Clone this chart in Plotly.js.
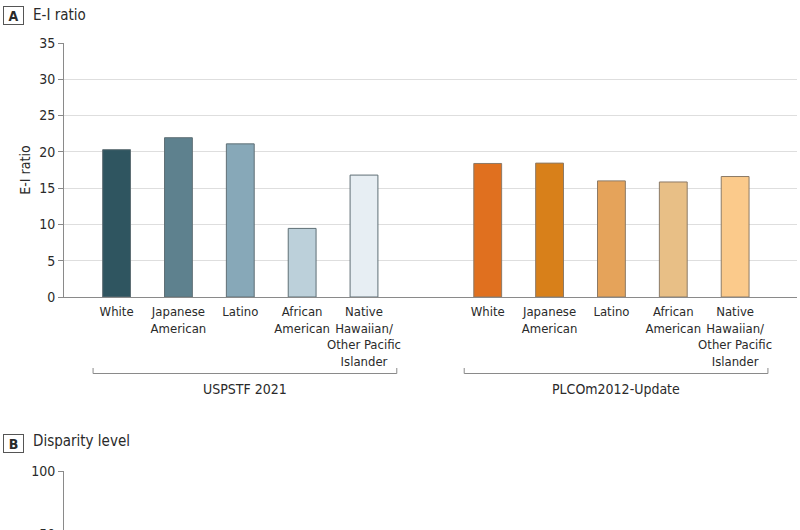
<!DOCTYPE html>
<html>
<head>
<meta charset="utf-8">
<script src="https://cdn.plot.ly/plotly-3.0.1.min.js"></script>
<style>
html,body{margin:0;padding:0;overflow:hidden;background:#fff;}
#chart{width:800px;height:600px;}
</style>
</head>
<body>
<div id="chart"></div>
<script>
// ---- data ----
const categories = ["White", "Japanese<br>American", "Latino", "African<br>American", "Native<br>Hawaiian/<br>Other Pacific<br>Islander"];
const groups = ["USPSTF 2021", "PLCOm2012-Update"];
const usptfValues = [20.3, 21.95, 21.1, 9.45, 16.8];
const plcoValues = [18.4, 18.45, 16.0, 15.85, 16.6];
const usptfColors = ["#2f5560", "#5e818e", "#87a8b8", "#bcd0da", "#e7eef3"];
const plcoColors = ["#e0701f", "#d8801a", "#e5a35a", "#e8bf86", "#fbca8b"];
const yTicksA = [0, 5, 10, 15, 20, 25, 30, 35];
const yTicksB = [50, 100];

// ---- layout helpers ----
const H = 600, T = 43, B = 0, L = 64, R = 3;
const plotH = H - T - B;
const py = p => (H - p) / plotH;           // pixel y -> paper fraction
const FONT = '"DejaVu Sans Condensed", "Liberation Sans Narrow", "Noto Sans", sans-serif';
const TXT = '#2a2a2a';

const groupSeries = [usptfValues, plcoValues];
const groupColors = [usptfColors, plcoColors];
const groupStep = categories.length + 1;

const traces = [];
const tickvals = [], ticktext = [];
groupSeries.forEach((vals, g) => {
  const xs = vals.map((_, i) => g * groupStep + i);
  xs.forEach((x, i) => { tickvals.push(x); ticktext.push(categories[i]); });
  traces.push({
    type: 'bar', x: xs, y: vals, width: 0.45,
    marker: {color: groupColors[g], line: {color: g === 0 ? '#5f6f75' : '#8c7a66', width: 1}},
    hoverinfo: 'skip', showlegend: false, xaxis: 'x', yaxis: 'y'
  });
});
traces.push({type: 'scatter', x: [], y: [], xaxis: 'x2', yaxis: 'y2', showlegend: false, hoverinfo: 'skip'});

const shapes = [], annotations = [];
groups.forEach((name, g) => {
  const x0 = g * groupStep - 0.38, x1 = g * groupStep + categories.length - 1 + 0.53;
  const yb = py(373.5), yt = py(368);
  const ln = {color: '#8a8a8a', width: 1};
  shapes.push({type: 'line', xref: 'x', yref: 'paper', x0: x0, x1: x1, y0: yb, y1: yb, line: ln});
  shapes.push({type: 'line', xref: 'x', yref: 'paper', x0: x0, x1: x0, y0: yb, y1: yt, line: ln});
  shapes.push({type: 'line', xref: 'x', yref: 'paper', x0: x1, x1: x1, y0: yb, y1: yt, line: ln});
  annotations.push({xref: 'x', yref: 'paper', x: (x0 + x1) / 2, y: py(389), text: name, showarrow: false,
    font: {family: FONT, size: 14, color: TXT}, xanchor: 'center', yanchor: 'middle'});
});
// panel labels
[["A", "E-I ratio", 15.5, 15], ["B", "Disparity level", 443, 441]].forEach(([letter, title, yb, yc]) => {
  annotations.push({xref: 'paper', yref: 'paper', x: (13.5 - L) / 733, y: py(yb), text: '<b>' + letter + '</b>',
    showarrow: false, font: {family: FONT, size: 14, color: TXT}, xanchor: 'center', yanchor: 'middle',
    bordercolor: '#555', borderwidth: 1, borderpad: 1, width: 17, height: 15});
  annotations.push({xref: 'paper', yref: 'paper', x: (31 - L) / 733, y: py(yc), text: title,
    showarrow: false, font: {family: FONT, size: 15, color: TXT}, xanchor: 'left', yanchor: 'middle'});
});

const layout = {
  width: 800, height: H,
  margin: {l: L, r: R, t: T, b: B},
  paper_bgcolor: '#fff', plot_bgcolor: '#fff',
  font: {family: FONT, size: 13, color: TXT},
  bargap: 0,
  xaxis: {
    domain: [0, 1], anchor: 'y', range: [-0.85, 11.0],
    tickvals: tickvals, ticktext: ticktext, ticks: '', showgrid: false, zeroline: false,
    showline: true, linecolor: '#8a8a8a', linewidth: 1, ticklabelstandoff: 2,
    tickfont: {family: FONT, size: 13, color: TXT}, tickangle: 0
  },
  yaxis: {
    domain: [py(297), 1], anchor: 'x', range: [0, 35], tickvals: yTicksA,
    showgrid: true, gridcolor: '#dedede', gridwidth: 1, zeroline: false,
    showline: true, linecolor: '#8a8a8a', linewidth: 1,
    ticks: 'outside', ticklen: 5, tickcolor: '#8a8a8a', tickfont: {family: FONT, size: 14, color: TXT},
    title: {text: 'E-I ratio', font: {family: FONT, size: 14, color: TXT}, standoff: 5}
  },
  xaxis2: {domain: [0, 1], anchor: 'y2', range: [-0.85, 11.0], showgrid: false, zeroline: false,
    showline: false, showticklabels: false, ticks: ''},
  yaxis2: {
    domain: [0, py(471)], anchor: 'x2', range: [100 - 129 / 1.26, 100], tickvals: yTicksB,
    showgrid: true, gridcolor: '#dedede', zeroline: false,
    showline: true, linecolor: '#8a8a8a', linewidth: 1,
    ticks: 'outside', ticklen: 5, tickcolor: '#8a8a8a', tickfont: {family: FONT, size: 14, color: TXT}
  },
  shapes: shapes, annotations: annotations
};

Plotly.newPlot('chart', traces, layout, {displayModeBar: false, staticPlot: true});
</script>
</body>
</html>
